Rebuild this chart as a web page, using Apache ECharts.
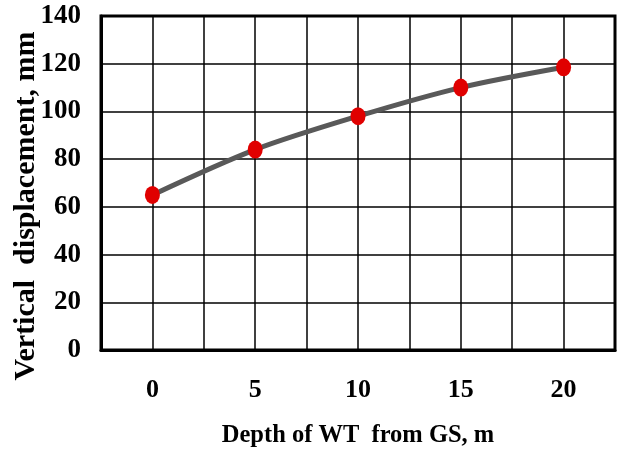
<!DOCTYPE html>
<html lang="en">
<head>
    <meta charset="UTF-8">
    <title>Vertical displacement vs depth of WT</title>
    <script src="https://cdn.jsdelivr.net/npm/echarts@6/dist/echarts.min.js"></script>
    <style>
        html, body { margin: 0; padding: 0; background: #fff; }
        #chart { width: 617px; height: 451px; }
    </style>
</head>
<body>
    <div id="chart"></div>
    <script>
        // depth of water table below ground surface (m)
        const depths = [0, 5, 10, 15, 20];
        // vertical displacement (mm)
        const displacement = [65, 84, 98, 110, 118.5];
        const xTicks = [0, 5, 10, 15, 20];

        const points = depths.map((d, i) => [d, displacement[i]]);
        const font = '"Liberation Serif", "Times New Roman", serif';

        const chart = echarts.init(document.getElementById('chart'));
        chart.setOption({
            animation: false,
            grid: {
                left: 101, right: 2, top: 16, bottom: 101,
                containLabel: false,
                outerBoundsMode: 'none',
                show: true,
                borderColor: '#000',
                borderWidth: 3
            },
            xAxis: {
                type: 'value',
                min: -2.5,
                max: 22.5,
                interval: 2.5,
                name: 'Depth of WT  from GS, m',
                nameLocation: 'middle',
                nameGap: 73,
                nameMoveOverlap: false,
                nameTextStyle: { fontFamily: font, fontWeight: 'bold', fontSize: 24.5, color: '#000' },
                axisLine: { show: true, onZero: false, lineStyle: { color: '#000', width: 3 } },
                axisTick: { show: false },
                splitLine: { show: true, lineStyle: { color: '#000', width: 1.5 } },
                axisLabel: {
                    margin: 27,
                    fontFamily: font, fontWeight: 'bold', fontSize: 26, color: '#000',
                    formatter: v => xTicks.includes(v) ? String(v) : ''
                }
            },
            yAxis: {
                type: 'value',
                min: 0,
                max: 140,
                interval: 20,
                name: 'Vertical  displacement, mm',
                nameLocation: 'middle',
                nameGap: 60,
                nameMoveOverlap: false,
                nameTextStyle: {
                    fontFamily: font, fontWeight: 'bold', fontSize: 30, color: '#000',
                    padding: [0, 46, 0, 0]
                },
                axisLine: { show: true, onZero: false, lineStyle: { color: '#000', width: 3 } },
                axisTick: { show: false },
                splitLine: { show: true, lineStyle: { color: '#000', width: 1.5 } },
                axisLabel: {
                    margin: 20,
                    fontFamily: font, fontWeight: 'bold', fontSize: 27, color: '#000'
                }
            },
            series: [{
                type: 'line',
                data: points,
                smooth: 0.3,
                lineStyle: { color: '#595959', width: 5 },
                symbol: 'circle',
                symbolSize: [15, 18],
                itemStyle: { color: '#e00000' },
                z: 5
            }]
        });
    </script>
</body>
</html>
